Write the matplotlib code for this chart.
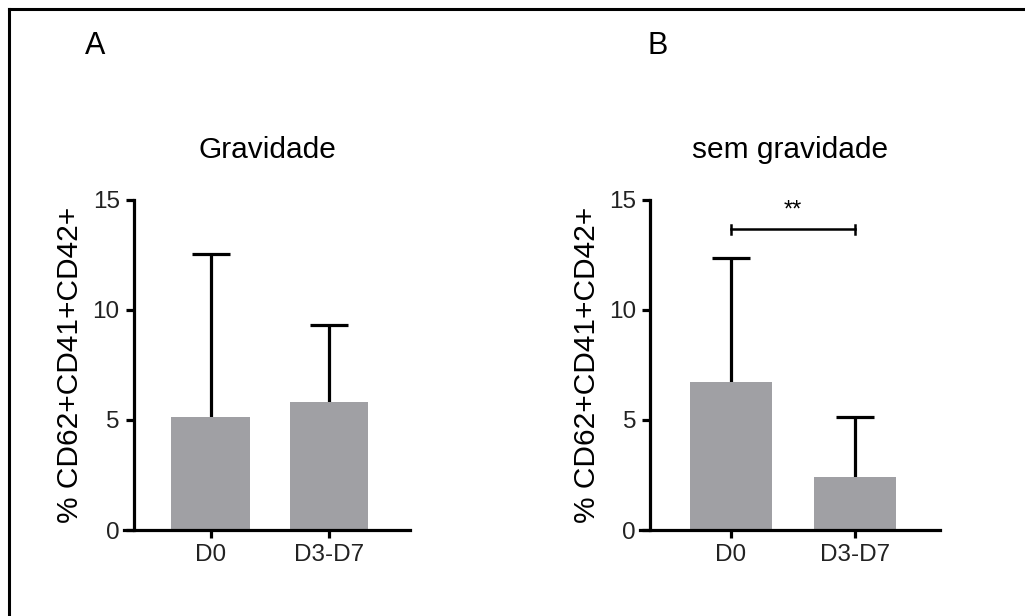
import numpy as np
import matplotlib.pyplot as plt
from matplotlib.lines import Line2D

plt.rcParams['font.family'] = ['Liberation Sans', 'DejaVu Sans']

grupos = ['D0', 'D3-D7']
titulos = ['Gravidade', 'sem gravidade']
paineis = ['A', 'B']
media_grav = [5.15, 5.8]
erro_grav = [7.4, 3.5]
media_sem = [6.7, 2.42]
erro_sem = [5.63, 2.73]
sig_nivel = 13.64
sig_texto = '**'

cor_barra = '#a0a0a4'

fig = plt.figure(figsize=(10.25, 6.16), dpi=100)

# moldura (linha superior e esquerda)
fig.add_artist(Line2D([0.0085, 1.0], [0.9846, 0.9846], color='black', lw=2.2, transform=fig.transFigure))
fig.add_artist(Line2D([0.0085, 0.0085], [0.0, 0.9846], color='black', lw=2.2, transform=fig.transFigure))

ax_a = fig.add_axes([0.121, 0.1396, 0.279, 0.5365])
ax_b = fig.add_axes([0.6244, 0.1396, 0.2927, 0.5365])

dados = [(ax_a, media_grav, erro_grav), (ax_b, media_sem, erro_sem)]
pos_letra = [-0.10, 0.06]
x = np.arange(len(grupos))

for i, (ax, media, erro) in enumerate(dados):
    ax.bar(x, media, width=0.66, color=cor_barra, zorder=2)
    eb = ax.errorbar(x, media, yerr=[np.zeros(len(media)), erro], fmt='none',
                     ecolor='black', elinewidth=2.3, capsize=14, capthick=2.3, zorder=1)
    eb[1][0].set_visible(False)  # sem tampa inferior
    ax.set_xlim(-0.73, 1.68)
    ax.set_ylim(0, 15)
    ax.set_yticks([0, 5, 10, 15])
    ax.set_xticks(x)
    ax.set_xticklabels(grupos)
    ax.spines['top'].set_visible(False)
    ax.spines['right'].set_visible(False)
    ax.spines['left'].set_position(('data', -0.65))
    ax.spines['left'].set_linewidth(2.3)
    ax.spines['bottom'].set_linewidth(2.3)
    ax.tick_params(axis='both', width=2.3, length=6, labelsize=17.5, colors='black', pad=4)
    ax.tick_params(axis='both', labelcolor='#222222')
    ax.set_ylabel('% CD62+CD41+CD42+', fontsize=21.5, labelpad=6)
    ax.set_title(titulos[i], fontsize=21.5, pad=30)
    ax.text(pos_letra[i], 1.466, paineis[i], transform=ax.transAxes, fontsize=22, ha='center', va='center')

# barra de significância no painel B
ax_b.plot([0, 1], [sig_nivel, sig_nivel], color='black', lw=1.8)
ax_b.plot([0, 0], [sig_nivel - 0.2, sig_nivel + 0.2], color='black', lw=1.8)
ax_b.plot([1, 1], [sig_nivel - 0.2, sig_nivel + 0.2], color='black', lw=1.8)
ax_b.text(0.5, sig_nivel + 0.35, sig_texto, ha='center', va='bottom', fontsize=17)

fig.savefig('out.png', dpi=100, facecolor='white')
